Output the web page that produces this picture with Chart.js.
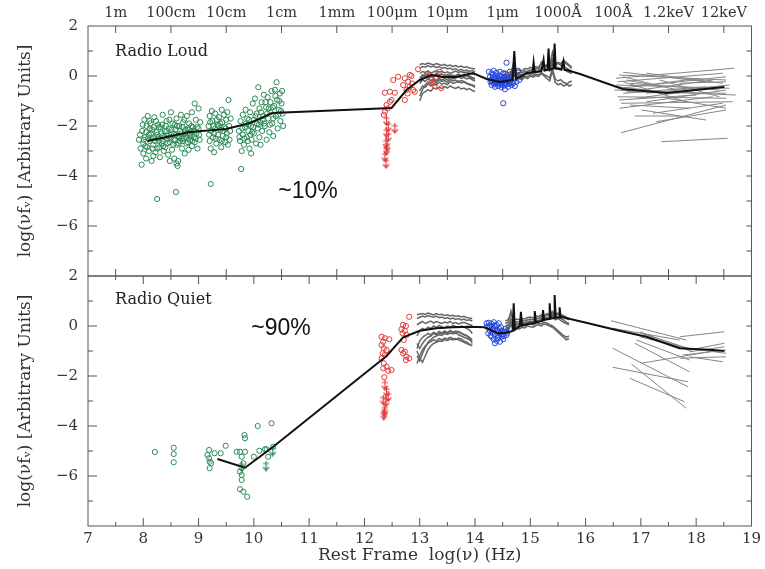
<!DOCTYPE html>
<html><head><meta charset="utf-8">
<script src="https://cdn.jsdelivr.net/npm/chart.js@4.4.0/dist/chart.umd.min.js"></script>
<style>html,body{margin:0;padding:0;background:#fff}</style>
</head><body>
<canvas id="c" width="765" height="569"></canvas>
<script>
// ---------- tick labels ----------
const xTickValues = [7,8,9,10,11,12,13,14,15,16,17,18,19];
const xTickLabels = ['7','8','9','10','11','12','13','14','15','16','17','18','19'];
const topTickValues = [7.5,8.5,9.5,10.5,11.5,12.5,13.5,14.5,15.5,16.5,17.5,18.5];
const topTickLabels = ['1m','100cm','10cm','1cm','1mm','100μm','10μm','1μm','1000Å','100Å','1.2keV','12keV'];
const yTickValues = [-6,-4,-2,0,2];
const yTickLabels = ['−6','−4','−2','0','2'];
const xTitle = 'Rest Frame  log(ν) (Hz)';
const yTitle = 'log(νfᵥ) [Arbitrary Units]';

// ---------- Radio Loud panel ----------
const greenLoudA = [[7.92,-2.55],[7.95,-2.9],[7.97,-3.55],[7.98,-2.2],[8.0,-2.7],[8.0,-3.1],[8.02,-1.75],[8.03,-2.45],[8.05,-3.3],[8.06,-2.0],[8.07,-2.85],[8.08,-1.6],[8.1,-2.35],[8.1,-3.0],[8.12,-2.6],[8.13,-1.9],[8.15,-3.4],[8.16,-2.15],[8.18,-2.75],[8.2,-1.65],[8.2,-2.45],[8.22,-3.05],[8.24,-2.25],[8.25,-2.9],[8.27,-1.95],[8.28,-2.6],[8.3,-3.25],[8.31,-2.05],[8.33,-2.7],[8.35,-1.55],[8.35,-2.4],[8.37,-3.0],[8.39,-2.2],[8.4,-2.85],[8.42,-1.8],[8.43,-2.5],[8.45,-3.15],[8.46,-2.1],[8.48,-2.65],[8.5,-1.45],[8.5,-2.35],[8.52,-2.95],[8.53,-1.9],[8.55,-2.55],[8.56,-3.3],[8.58,-2.15],[8.6,-2.75],[8.6,-1.7],[8.62,-2.4],[8.63,-3.4],[8.65,-2.0],[8.66,-2.6],[8.68,-1.55],[8.69,-2.3],[8.7,-2.9],[8.72,-1.85],[8.73,-2.5],[8.75,-3.1],[8.76,-2.15],[8.78,-2.7],[8.79,-1.6],[8.8,-2.35],[8.82,-2.95],[8.83,-1.9],[8.85,-2.55],[8.86,-2.2],[8.88,-1.45],[8.88,-2.8],[8.9,-2.05],[8.91,-2.45],[8.93,-1.1],[8.93,-2.65],[8.95,-1.75],[8.96,-2.3],[8.98,-2.9],[9.0,-1.3],[9.0,-2.1],[9.02,-2.55],[9.03,-1.85],[8.05,-2.25],[8.15,-2.5],[8.25,-2.35],[8.35,-2.6],[8.45,-2.4],[8.55,-2.3],[8.65,-2.45],[8.75,-2.3],[8.85,-2.4],[8.95,-2.5],[8.12,-2.1],[8.28,-2.05],[8.42,-2.2],[8.58,-2.55],[8.72,-2.6],[8.82,-2.15],[8.18,-3.2],[8.48,-3.4],[8.6,-3.5],[8.62,-3.6],
  [7.94,-2.35],[7.99,-1.95],[8.01,-2.55],[8.04,-2.8],[8.09,-2.5],[8.11,-1.8],[8.14,-2.3],[8.17,-2.9],[8.19,-2.05],[8.21,-2.6],[8.23,-1.8],[8.26,-2.5],[8.29,-2.85],[8.32,-2.3],[8.34,-1.95],[8.36,-2.8],[8.38,-2.45],[8.41,-2.0],[8.44,-2.7],[8.47,-1.75],[8.49,-2.5],[8.51,-2.15],[8.54,-2.75],[8.57,-1.95],[8.59,-2.35],[8.61,-2.0],[8.64,-2.7],[8.67,-2.2],[8.7,-2.5],[8.71,-2.05],[8.74,-1.75],[8.77,-2.45],[8.8,-2.1],[8.81,-2.65],[8.84,-2.3],[8.87,-2.0],[8.89,-2.6],[8.92,-2.2],[8.97,-2.05],[9.01,-2.35]];
const greenLoudB = [[9.18,-2.0],[9.2,-2.6],[9.2,-1.6],[9.22,-2.9],[9.23,-2.2],[9.25,-1.8],[9.26,-2.45],[9.28,-3.05],[9.3,-1.5],[9.3,-2.1],[9.32,-2.7],[9.34,-1.95],[9.35,-2.35],[9.37,-1.65],[9.38,-2.55],[9.4,-2.15],[9.41,-2.85],[9.43,-1.85],[9.44,-2.4],[9.46,-1.55],[9.47,-2.05],[9.48,-2.65],[9.5,-1.75],[9.51,-2.3],[9.52,-1.45],[9.54,-0.96],[9.55,-2.0],[9.56,-2.55],[9.58,-1.7],[9.28,-2.3],[9.36,-2.0],[9.45,-2.2],[9.24,-1.4],[9.42,-1.35],[9.53,-2.75],
  [9.19,-2.35],[9.21,-1.85],[9.27,-2.0],[9.31,-2.5],[9.33,-1.75],[9.39,-1.9],[9.42,-2.6],[9.49,-2.1],[9.5,-2.45],[9.57,-2.2]];
const greenLoudC = [[9.73,-2.2],[9.75,-2.6],[9.76,-1.8],[9.78,-3.0],[9.8,-2.35],[9.8,-1.55],[9.82,-2.75],[9.84,-2.05],[9.85,-1.35],[9.87,-2.45],[9.88,-1.7],[9.9,-2.2],[9.92,-2.9],[9.93,-1.45],[9.95,-2.0],[9.96,-2.55],[9.98,-1.1],[10.0,-1.75],[10.0,-2.3],[10.02,-0.9],[10.04,-2.7],[10.05,-1.5],[10.07,-2.1],[10.08,-0.45],[10.1,-1.3],[10.1,-2.45],[10.12,-1.85],[10.14,-1.05],[10.15,-2.2],[10.17,-1.6],[10.18,-0.75],[10.2,-2.0],[10.22,-1.25],[10.23,-2.55],[10.25,-0.85],[10.26,-1.7],[10.28,-2.25],[10.3,-1.05],[10.3,-1.45],[10.32,-0.6],[10.33,-1.9],[10.35,-2.4],[10.37,-1.2],[10.38,-0.55],[10.41,-0.25],[10.4,-1.6],[10.42,-0.95],[10.43,-2.1],[10.45,-1.35],[10.47,-0.7],[10.48,-1.8],[10.5,-1.1],[10.52,-1.5],[10.53,-2.0],[9.9,-1.95],[9.97,-2.25],[10.06,-1.9],[10.16,-1.75],[10.24,-1.5],[10.35,-1.7],[10.44,-1.55],[9.95,-3.1],[10.12,-2.75],
  [9.74,-2.45],[9.79,-2.1],[9.83,-2.5],[9.86,-1.9],[9.89,-2.6],[9.91,-1.75],[9.94,-2.35],[9.99,-2.05],[10.03,-1.6],[10.09,-1.95],[10.13,-1.45],[10.19,-1.9],[10.21,-1.05],[10.27,-1.3],[10.29,-1.95],[10.34,-1.25],[10.39,-0.8],[10.46,-1.0],[10.49,-1.4],[10.51,-0.6]];
const greenLoudOut = [[8.25,-4.92],[8.59,-4.64],[9.22,-4.32],[9.77,-3.72]];
const redLoud = [[12.37,-0.67],[12.46,-0.63],[12.55,-0.67],[12.40,-1.16],[12.46,-1.03],[12.49,-0.96],[12.37,-1.43],[12.42,-1.30],[12.35,-1.55],[12.52,-0.16],[12.61,-0.03],[12.73,-0.09],[12.82,0.04],[12.85,0.0],[12.97,0.27],[12.79,-0.23],[12.76,-0.56],[12.73,-0.96],[12.82,-0.43],[12.88,-0.56],[12.91,-0.63],[12.70,-0.36],[12.78,-0.70],[12.86,-0.30],[13.21,-0.16],[13.30,-0.03],[13.39,-0.49],[13.24,-0.29],[13.36,0.17],[13.18,0.05],[13.27,-0.40]];
const redLoudLimits = [[12.40,-1.79],[12.43,-2.03],[12.40,-2.27],[12.43,-2.43],[12.39,-2.69],[12.41,-2.83],[12.40,-2.96],[12.37,-3.23],[12.39,-3.49],[12.55,-2.09]];
const blueLoud = [[14.25,0.17],[14.30,0.11],[14.34,0.21],[14.39,0.13],[14.45,0.17],[14.51,0.11],[14.57,0.53],[14.63,0.17],[14.69,0.08],[14.78,0.21],[14.27,-0.03],[14.33,-0.05],[14.37,0.0],[14.42,-0.09],[14.48,-0.03],[14.54,-0.05],[14.60,-0.13],[14.66,-0.03],[14.72,-0.09],[14.80,-0.16],[14.28,-0.23],[14.33,-0.27],[14.39,-0.19],[14.45,-0.29],[14.49,-0.24],[14.54,-0.29],[14.58,-0.23],[14.63,-0.27],[14.69,-0.29],[14.75,-0.23],[14.30,-0.36],[14.36,-0.43],[14.42,-0.40],[14.48,-0.45],[14.54,-0.53],[14.60,-0.43],[14.66,-0.36],[14.72,-0.40],[14.51,-1.09],[14.43,-0.16],[14.55,-0.16],[14.615,-0.32],
  [14.29,-0.15],[14.31,-0.2],[14.35,-0.12],[14.38,-0.25],[14.40,-0.3],[14.44,-0.2],[14.46,-0.15],[14.50,-0.2],[14.52,-0.1],[14.56,-0.3],[14.41,-0.05],[14.35,-0.33],[14.47,-0.35],[14.53,-0.38],[14.59,-0.08],[14.32,0.05],[14.44,0.02],[14.50,-0.27],[14.57,-0.18],[14.62,-0.05]];
const meanLoud = [[8.08,-2.6],[8.84,-2.24],[9.5,-2.12],[9.93,-1.88],[10.33,-1.48],[12.49,-1.28],[12.76,-0.56],[13.0,-0.16],[13.22,0.04],[13.42,-0.04],[13.67,-0.04],[13.96,0.12],[14.21,-0.12],[14.45,-0.24],[14.68,-0.16],[14.71,1.0],[14.74,-0.1],[14.85,0.0],[14.93,0.12],[15.04,0.15],[15.06,0.55],[15.08,0.16],[15.2,0.2],[15.24,0.65],[15.26,0.22],[15.31,0.24],[15.33,1.1],[15.35,0.25],[15.42,0.3],[15.44,1.3],[15.46,0.3],[15.56,0.26],[15.6,0.6],[15.62,0.24],[15.66,0.24],[15.9,0.08],[16.67,-0.52],[17.46,-0.68],[18.51,-0.44]];
const irLoudX = [13.00,13.05,13.10,13.15,13.20,13.25,13.30,13.35,13.40,13.45,13.50,13.55,13.60,13.65,13.70,13.75,13.80,13.85,13.90,13.95,14.00];
const irLoud1 = [0.30,0.38,0.35,0.42,0.36,0.40,0.33,0.38,0.30,0.35,0.28,0.32,0.25,0.30,0.22,0.27,0.20,0.24,0.18,0.22,0.15];
const irLoud2 = [0.10,0.18,0.14,0.20,0.12,0.16,0.22,0.15,0.19,0.12,0.17,0.10,0.15,0.20,0.14,0.18,0.12,0.16,0.10,0.08,0.05];
const irLoud3 = [-0.10,0.05,-0.02,0.08,0.02,-0.04,0.06,0.00,-0.05,0.04,-0.02,0.05,-0.03,0.02,0.08,0.03,-0.02,0.04,0.00,-0.06,-0.10];
const irLoud4 = [-0.30,-0.15,-0.22,-0.10,-0.18,-0.12,-0.20,-0.08,-0.16,-0.10,-0.15,-0.05,-0.12,-0.08,-0.02,-0.10,-0.05,-0.12,-0.08,-0.15,-0.20];
const irLoud5 = [-0.60,-0.40,-0.45,-0.32,-0.40,-0.30,-0.36,-0.25,-0.33,-0.28,-0.35,-0.22,-0.30,-0.26,-0.20,-0.28,-0.24,-0.30,-0.35,-0.38,-0.45];
const irLoud6 = [-1.00,-0.70,-0.62,-0.55,-0.60,-0.48,-0.52,-0.45,-0.50,-0.42,-0.48,-0.40,-0.46,-0.50,-0.44,-0.52,-0.48,-0.55,-0.50,-0.58,-0.62];
const irLoud7 = [0.45,0.50,0.46,0.52,0.48,0.44,0.50,0.46,0.42,0.47,0.40,0.44,0.38,0.42,0.36,0.40,0.34,0.37,0.32,0.30,0.28];
const irLoud8 = [-0.20,-0.05,0.10,0.02,0.08,0.00,0.12,0.04,0.08,-0.02,0.06,0.00,0.04,-0.04,0.02,-0.03,0.05,0.00,-0.05,-0.10,-0.12];
const irLoud9 = [-0.80,-0.55,-0.35,-0.25,-0.30,-0.20,-0.26,-0.15,-0.22,-0.18,-0.24,-0.14,-0.20,-0.16,-0.25,-0.18,-0.22,-0.28,-0.32,-0.36,-0.40];
const uvLoudX = [14.50,14.55,14.60,14.65,14.70,14.75,14.80,14.85,14.90,14.95,15.00,15.05,15.10,15.15,15.20,15.25,15.30,15.35,15.40,15.45,15.50,15.55,15.60,15.65,15.70,15.75];
const uvLoud1 = [0.05,0.10,0.02,0.08,0.55,0.10,0.15,0.12,0.20,0.18,0.25,0.22,0.30,0.28,0.55,0.35,0.40,0.38,0.95,0.45,0.50,0.42,0.60,0.48,0.40,0.30];
const uvLoud2 = [-0.15,-0.10,-0.18,-0.05,0.30,-0.02,0.05,0.00,0.08,0.05,0.12,0.10,0.15,0.18,0.35,0.22,0.25,0.20,0.60,0.28,0.32,0.25,0.30,0.20,0.15,0.10];
const uvLoud3 = [-0.30,-0.25,-0.20,-0.28,-0.15,-0.18,-0.10,-0.15,-0.05,-0.10,0.00,-0.05,0.02,-0.02,0.10,0.00,-0.10,-0.20,0.20,-0.25,-0.35,-0.30,-0.40,-0.35,-0.25,-0.20];
const uvLoud4 = [-0.05,0.00,-0.08,0.02,0.20,0.05,0.08,0.04,0.12,0.10,0.16,0.14,0.20,0.16,0.30,0.25,0.28,0.22,0.45,0.30,0.35,0.28,0.40,0.32,0.25,0.18];
const uvLoud5 = [0.15,0.20,0.12,0.18,0.40,0.22,0.25,0.20,0.30,0.28,0.35,0.30,0.38,0.34,0.50,0.40,0.45,0.42,0.70,0.48,0.55,0.50,0.62,0.55,0.45,0.35];
const uvLoud6 = [-0.25,-0.18,-0.30,-0.12,0.10,-0.10,-0.04,-0.08,0.00,-0.04,0.05,0.02,0.08,0.04,0.15,0.05,0.00,-0.08,0.30,-0.12,-0.20,-0.15,-0.25,-0.30,-0.40,-0.35];
const xrayLoud = [[16.68,0.15,18.18,-0.23],[16.61,0.04,18.54,-0.16],[16.55,-0.09,18.69,0.31],[16.58,-0.23,18.48,0.11],[16.55,-0.36,18.60,-0.49],[16.61,-0.49,18.54,-0.03],[16.52,-0.56,18.72,-0.76],[16.68,-0.69,18.18,-0.43],[16.58,-0.83,18.54,-0.89],[16.61,-0.96,18.00,-0.76],[16.64,-1.09,18.66,-1.03],[16.61,-1.29,18.30,-0.83],[17.01,-1.36,18.18,-1.76],[16.89,-1.60,17.70,-1.60],[16.64,-2.27,18.54,-1.16],[17.28,-1.83,18.54,-1.36],[17.37,-2.63,18.57,-2.49],[16.74,-0.16,17.70,-0.56],[17.10,0.11,18.48,-0.29],[16.80,-0.29,18.42,-0.56],[16.86,-0.43,18.06,-0.09],[16.74,-0.63,18.54,-0.69],[16.92,-0.89,18.48,-0.43],[16.68,-0.03,17.40,-0.43],[17.10,-0.69,18.60,-0.36],[17.46,-0.89,18.54,-1.29],[16.80,-1.16,17.88,-1.29],[17.22,-1.49,18.48,-1.09],[17.70,-0.29,18.54,-0.23],[16.55,-0.43,17.70,-0.69],[16.98,-0.56,18.30,-0.16],[17.34,-0.16,18.42,-0.83],[17.10,-1.03,18.54,-0.56],[16.68,-0.23,17.82,-1.03]];

// ---------- Radio Quiet panel ----------
const greenQuiet = [[8.21,-5.04],[8.55,-4.87],[8.55,-5.12],[8.55,-5.45],[9.19,-4.96],[9.16,-5.16],[9.19,-5.29],[9.20,-5.43],[9.20,-5.69],[9.23,-5.49],[9.29,-5.09],[9.40,-5.09],[9.49,-4.79],[9.69,-5.03],[9.75,-5.03],[9.84,-5.03],[9.83,-4.36],[9.84,-4.49],[10.07,-4.0],[10.32,-3.89],[9.78,-5.23],[9.81,-5.49],[9.75,-5.83],[9.78,-5.96],[9.78,-6.16],[9.75,-6.53],[9.81,-6.63],[9.88,-6.83],[10.0,-5.23],[10.1,-4.99],[10.2,-4.93],[10.23,-4.93],[10.26,-5.23],[10.35,-4.83]];
const greenQuietLimits = [[10.22,-5.6],[10.34,-5.0],[9.78,-5.63]];
const redQuiet = [[12.31,-0.43],[12.37,-0.49],[12.45,-0.53],[12.34,-0.63],[12.31,-0.76],[12.35,-0.89],[12.40,-0.96],[12.33,-1.09],[12.37,-1.16],[12.31,-1.29],[12.35,-1.49],[12.40,-1.63],[12.34,-1.69],[12.49,-1.76],[12.43,-1.79],[12.36,-2.05],[12.70,0.04],[12.75,0.0],[12.67,-0.13],[12.73,-0.19],[12.69,-0.29],[12.76,-0.36],[12.71,-0.56],[12.67,-0.96],[12.73,-1.03],[12.70,-1.09],[12.76,-1.23],[12.81,-1.29],[12.75,-1.36],[12.81,0.37]];
const redQuietLimits = [[12.37,-2.36],[12.40,-2.63],[12.43,-2.83],[12.34,-2.96],[12.39,-3.03],[12.37,-3.36],[12.35,-3.56],[12.36,-3.45]];
const blueQuiet = [[14.21,0.11],[14.25,0.13],[14.30,0.08],[14.34,0.15],[14.39,0.04],[14.43,0.11],[14.22,-0.03],[14.28,-0.05],[14.33,-0.09],[14.37,-0.03],[14.45,-0.13],[14.49,-0.19],[14.54,-0.23],[14.58,-0.27],[14.27,-0.19],[14.31,-0.27],[14.36,-0.32],[14.42,-0.36],[14.48,-0.43],[14.30,-0.43],[14.34,-0.53],[14.39,-0.59],[14.45,-0.63],[14.51,-0.53],[14.57,-0.36],[14.24,-0.29],[14.40,-0.16],[14.46,-0.29],[14.52,-0.40],[14.36,-0.69],
  [14.26,0.0],[14.32,-0.15],[14.38,-0.22],[14.41,-0.48],[14.47,-0.05],[14.50,-0.33],[14.55,-0.12],[14.28,-0.38],[14.35,0.02],[14.43,-0.25]];
const meanQuiet = [[9.34,-5.32],[9.84,-5.67],[10.35,-4.83],[12.1,-1.73],[12.4,-1.2],[12.7,-0.45],[13.0,-0.19],[13.3,-0.09],[13.6,-0.05],[13.9,-0.03],[14.17,-0.05],[14.42,-0.29],[14.57,-0.27],[14.68,-0.2],[14.70,0.91],[14.72,-0.15],[14.81,0.0],[14.83,0.57],[14.85,0.02],[15.0,0.1],[15.07,0.12],[15.08,0.6],[15.10,0.15],[15.22,0.2],[15.23,0.64],[15.25,0.25],[15.34,0.28],[15.35,0.91],[15.37,0.3],[15.43,0.32],[15.44,1.24],[15.46,0.33],[15.52,0.34],[15.53,0.75],[15.55,0.35],[15.59,0.35],[16.01,0.13],[16.61,-0.19],[17.10,-0.43],[17.70,-0.89],[18.30,-0.96],[18.51,-1.0]];
const irQuietX = [12.95,13.00,13.05,13.10,13.15,13.20,13.25,13.30,13.35,13.40,13.45,13.50,13.55,13.60,13.65,13.70,13.75,13.80,13.85,13.90,13.95];
const irQuiet1 = [0.30,0.35,0.40,0.36,0.42,0.38,0.35,0.40,0.33,0.36,0.30,0.34,0.28,0.32,0.26,0.30,0.24,0.28,0.22,0.25,0.20];
const irQuiet2 = [0.05,0.12,0.18,0.10,0.15,0.20,0.12,0.18,0.14,0.10,0.16,0.12,0.18,0.10,0.14,0.08,0.12,0.15,0.10,0.06,0.02];
const irQuiet3 = [-0.40,-0.20,-0.10,-0.15,-0.05,-0.10,0.00,-0.06,0.02,-0.04,-0.08,0.00,-0.05,0.03,-0.02,-0.06,0.00,-0.04,-0.10,-0.15,-0.30];
const irQuiet4 = [-0.90,-0.60,-0.45,-0.38,-0.30,-0.36,-0.25,-0.32,-0.22,-0.28,-0.20,-0.26,-0.18,-0.24,-0.30,-0.22,-0.28,-0.35,-0.40,-0.50,-0.70];
const irQuiet5 = [-1.50,-1.20,-0.95,-0.80,-0.70,-0.62,-0.55,-0.60,-0.50,-0.56,-0.48,-0.52,-0.45,-0.50,-0.55,-0.48,-0.52,-0.60,-0.65,-0.72,-0.80];
const irQuiet6 = [-1.20,-1.40,-1.10,-0.85,-0.65,-0.55,-0.45,-0.40,-0.35,-0.38,-0.30,-0.34,-0.28,-0.32,-0.26,-0.35,-0.40,-0.45,-0.50,-0.55,-0.60];
const irQuiet7 = [0.45,0.48,0.50,0.46,0.52,0.48,0.44,0.50,0.45,0.47,0.42,0.45,0.40,0.43,0.38,0.41,0.36,0.39,0.34,0.32,0.30];
const irQuiet8 = [-0.70,-0.90,-0.70,-0.55,-0.45,-0.40,-0.30,-0.35,-0.28,-0.32,-0.25,-0.30,-0.22,-0.26,-0.20,-0.24,-0.30,-0.34,-0.38,-0.45,-0.55];
const irQuiet9 = [-1.00,-1.30,-1.45,-1.20,-0.95,-0.80,-0.70,-0.65,-0.60,-0.62,-0.55,-0.58,-0.52,-0.56,-0.50,-0.55,-0.60,-0.65,-0.70,-0.75,-0.78];
const uvQuietX = [14.55,14.60,14.65,14.70,14.75,14.80,14.85,14.90,14.95,15.00,15.05,15.10,15.15,15.20,15.25,15.30,15.35,15.40,15.45,15.50,15.55,15.60,15.65,15.70];
const uvQuiet1 = [0.10,0.15,0.60,0.12,0.18,0.15,0.22,0.20,0.25,0.28,0.24,0.32,0.30,0.38,0.35,0.45,0.40,0.55,0.42,0.48,0.40,0.38,0.30,0.25];
const uvQuiet2 = [-0.10,-0.05,0.30,-0.02,0.05,0.02,0.10,0.08,0.12,0.15,0.10,0.18,0.20,0.25,0.22,0.30,0.28,0.40,0.25,0.30,0.22,0.15,0.10,0.05];
const uvQuiet3 = [-0.25,-0.20,0.05,-0.15,-0.10,-0.12,-0.05,-0.08,0.00,-0.03,-0.05,0.02,0.05,0.00,0.08,0.05,0.00,-0.05,-0.15,-0.25,-0.35,-0.45,-0.55,-0.50];
const uvQuiet4 = [0.00,0.05,0.15,0.08,0.10,0.08,0.15,0.12,0.18,0.20,0.16,0.24,0.22,0.30,0.28,0.35,0.30,0.45,0.32,0.38,0.30,0.25,0.15,0.10];
const uvQuiet5 = [0.20,0.25,0.50,0.22,0.28,0.25,0.30,0.28,0.34,0.36,0.32,0.40,0.38,0.45,0.42,0.50,0.46,0.58,0.48,0.52,0.45,0.42,0.35,0.30];
const uvQuiet6 = [-0.15,-0.10,0.15,-0.08,-0.02,-0.05,0.02,0.00,0.05,0.08,0.04,0.10,0.12,0.08,0.15,0.12,0.05,0.00,-0.08,-0.18,-0.28,-0.38,-0.45,-0.40];
const xrayQuiet = [[16.46,0.21,17.82,-0.56],[16.49,-0.09,17.70,-0.56],[17.70,-0.43,18.51,-0.23],[16.98,-0.23,17.88,-0.96],[17.01,-0.29,17.91,-0.93],[17.04,-0.36,17.94,-1.03],[16.98,-0.43,17.82,-0.89],[17.88,-0.96,18.51,-0.69],[17.88,-1.03,18.51,-0.83],[17.82,-0.89,18.54,-1.09],[17.88,-1.23,18.48,-1.43],[17.76,-1.16,18.54,-0.96],[16.92,-0.56,17.88,-1.36],[16.89,-0.69,17.88,-1.83],[16.49,-0.89,17.85,-2.43],[17.01,-1.49,18.42,-0.96],[16.49,-1.65,17.85,-2.23],[16.83,-1.52,17.82,-3.29],[16.80,-2.09,17.79,-3.03],[17.70,-1.29,18.54,-1.23]];

// ---------- build ----------
const SERIF = "'DejaVu Serif', serif";
const GREEN = '#2b8a55', RED = '#e03a3a', BLUE = '#2244dd', GRAY = '#666666';
const pts = a => a.map(p => ({x:p[0], y:p[1]}));
const spec = (xs, ys) => xs.map((x,i) => ({x, y:ys[i]}));

function arrowImg(color){
  const c = document.createElement('canvas'); c.width = 9; c.height = 11;
  const g = c.getContext('2d'); g.strokeStyle = color; g.lineWidth = 1.2;
  g.beginPath(); g.moveTo(4.5,0); g.lineTo(4.5,10); g.moveTo(1.5,6.5); g.lineTo(4.5,10); g.lineTo(7.5,6.5);
  g.moveTo(1.5,3); g.lineTo(7.5,3); g.stroke();
  return c;
}

const datasets = [];
function lineDS(data, yID, color, width, order){
  datasets.push({data, xAxisID:'x', yAxisID:yID, showLine:true, borderColor:color, borderWidth:width,
    pointRadius:0, pointHoverRadius:0, fill:false, tension:0, order});
}
function ptDS(data, yID, color, order){
  datasets.push({data, xAxisID:'x', yAxisID:yID, showLine:false, pointStyle:'circle', pointRadius:2.6,
    borderColor:color, backgroundColor:'rgba(0,0,0,0)', borderWidth:1, order});
}
function limDS(data, yID, color, order){
  datasets.push({data, xAxisID:'x', yAxisID:yID, showLine:false, pointStyle:arrowImg(color), pointRadius:5, order});
}

lineDS(pts(meanLoud), 'yT', '#111', 2, 0);
lineDS(pts(meanQuiet), 'yB', '#111', 2, 0);
[greenLoudA, greenLoudB, greenLoudC, greenLoudOut].forEach(a => ptDS(pts(a), 'yT', GREEN, 1));
ptDS(pts(redLoud), 'yT', RED, 1);
limDS(pts(redLoudLimits), 'yT', RED, 1);
ptDS(pts(blueLoud), 'yT', BLUE, 1);
ptDS(pts(greenQuiet), 'yB', GREEN, 1);
limDS(pts(greenQuietLimits), 'yB', GREEN, 1);
ptDS(pts(redQuiet), 'yB', RED, 1);
limDS(pts(redQuietLimits), 'yB', RED, 1);
ptDS(pts(blueQuiet), 'yB', BLUE, 1);
[irLoud1, irLoud2, irLoud3, irLoud4, irLoud5, irLoud6, irLoud7, irLoud8, irLoud9].forEach(s => lineDS(spec(irLoudX, s), 'yT', GRAY, 1.5, 2));
[uvLoud1, uvLoud2, uvLoud3, uvLoud4, uvLoud5, uvLoud6].forEach(s => lineDS(spec(uvLoudX, s), 'yT', GRAY, 1.5, 2));
[irQuiet1, irQuiet2, irQuiet3, irQuiet4, irQuiet5, irQuiet6, irQuiet7, irQuiet8, irQuiet9].forEach(s => lineDS(spec(irQuietX, s), 'yB', GRAY, 1.5, 2));
[uvQuiet1, uvQuiet2, uvQuiet3, uvQuiet4, uvQuiet5, uvQuiet6].forEach(s => lineDS(spec(uvQuietX, s), 'yB', GRAY, 1.5, 2));
xrayLoud.forEach(s => lineDS([{x:s[0],y:s[1]},{x:s[2],y:s[3]}], 'yT', '#858585', 1, 2));
xrayQuiet.forEach(s => lineDS([{x:s[0],y:s[1]},{x:s[2],y:s[3]}], 'yB', '#858585', 1, 2));

const frame = {
  id: 'frame',
  afterDatasetsDraw(chart){
    const ctx = chart.ctx, L = chart.chartArea.left, R = chart.chartArea.right;
    const x = chart.scales.x, yT = chart.scales.yT, yB = chart.scales.yB;
    ctx.save();
    ctx.strokeStyle = '#555'; ctx.lineWidth = 1;
    const seg = (x1,y1,x2,y2) => { ctx.beginPath(); ctx.moveTo(x1,y1); ctx.lineTo(x2,y2); ctx.stroke(); };
    [yT, yB].forEach(s => {
      ctx.strokeRect(L, s.top, R-L, s.bottom-s.top);
      for (let v = -7; v <= 1; v++) {
        const p = s.getPixelForValue(v);
        seg(L, p, L + (v % 2 === 0 ? 9 : 5), p);
        seg(R, p, R - 5, p);
      }
    });
    topTickValues.forEach(v => { const p = x.getPixelForValue(v); seg(p, yT.top, p, yT.top+7); seg(p, yT.bottom, p, yT.bottom-7); });
    for (let v = 7.5; v < 19; v += 0.5) {
      const p = x.getPixelForValue(v), len = Number.isInteger(v) ? 8 : 4;
      seg(p, yB.top, p, yB.top+len); seg(p, yB.bottom, p, yB.bottom-len);
    }
    ctx.fillStyle = '#222'; ctx.textBaseline = 'middle';
    ctx.font = "16px " + SERIF; ctx.textAlign = 'left';
    ctx.fillText('Radio Loud', x.getPixelForValue(7.49), yT.getPixelForValue(0.95));
    ctx.fillText('Radio Quiet', x.getPixelForValue(7.49), yB.getPixelForValue(1.05));
    ctx.font = "23px 'Liberation Sans', Arial, sans-serif"; ctx.textAlign = 'center'; ctx.fillStyle = '#111';
    ctx.fillText('~10%', x.getPixelForValue(10.98), yT.getPixelForValue(-4.64));
    ctx.fillText('~90%', x.getPixelForValue(10.49), yB.getPixelForValue(-0.12));
    ctx.restore();
  }
};

const tickFont = {family: SERIF, size: 15};
const yAxis = (weight) => ({
  type:'linear', position:'left', stack:'panels', stackWeight:1, weight, min:-8, max:2,
  grid:{display:false, drawTicks:false}, border:{display:false},
  afterBuildTicks(s){ s.ticks = yTickValues.map(v => ({value:v})); },
  ticks:{color:'#333', font:tickFont, padding:10, callback:(v,i) => yTickLabels[i]},
  title:{display:true, text:yTitle, color:'#333', font:{family:SERIF, size:17}, padding:{top:15, bottom:0}},
  afterFit(s){ s.width = 88; }
});

new Chart(document.getElementById('c'), {
  type:'scatter',
  data:{datasets},
  options:{
    responsive:false, animation:false, events:[],
    layout:{padding:{left:0, right:13, top:0, bottom:0}},
    plugins:{legend:{display:false}, tooltip:{enabled:false}},
    scales:{
      x:{type:'linear', position:'bottom', min:7, max:19,
        grid:{display:false, drawTicks:false}, border:{display:false},
        afterBuildTicks(s){ s.ticks = xTickValues.map(v => ({value:v})); },
        ticks:{color:'#333', font:tickFont, padding:4, autoSkip:false, maxRotation:0, callback:(v,i) => xTickLabels[i]},
        title:{display:true, text:xTitle, color:'#333', font:{family:SERIF, size:17}, padding:{top:0, bottom:3}},
        afterFit(s){ s.height = 43; }},
      xTop:{type:'linear', position:'top', min:7, max:19,
        grid:{display:false, drawTicks:false}, border:{display:false},
        afterBuildTicks(s){ s.ticks = topTickValues.map(v => ({value:v})); },
        ticks:{color:'#333', font:{family:SERIF, size:14.5}, padding:4, autoSkip:false, maxRotation:0, callback:(v,i) => topTickLabels[i]},
        afterFit(s){ s.height = 26; }},
      yT: yAxis(2),
      yB: yAxis(1)
    }
  },
  plugins:[frame]
});
</script>
</body></html>
